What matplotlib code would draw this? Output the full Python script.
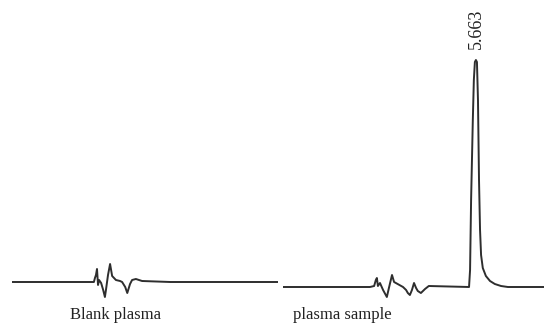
import matplotlib
matplotlib.use("Agg")
import matplotlib.pyplot as plt

# ── data: retention time (min) vs detector response (arb. units) ─────────────
blank_time = [0.00, 2.38, 2.41, 2.44, 2.47, 2.50, 2.53, 2.59, 2.65, 2.70, 2.73,
              2.79, 2.85, 2.91, 3.02, 3.14, 3.20, 3.29, 3.35, 3.43, 3.49, 3.60,
              3.78, 4.60, 5.80, 7.73]
blank_resp = [0, 0, 4, 7, 13, -3, 2, -1, -8, -15, -8,
              7, 18, 6, 2, 1, 0, -5, -11, -2, 2, 3,
              1, 0, 0, 0]

sample_time = [0.00, 2.53, 2.65, 2.70, 2.73, 2.76, 2.82, 2.91, 3.02, 3.08, 3.17,
               3.23, 3.49, 3.58, 3.63, 3.69, 3.75, 3.81, 3.87, 3.92, 4.01, 4.13,
               4.24, 5.41, 5.44, 5.47, 5.52, 5.55, 5.58, 5.61, 5.64, 5.67, 5.70,
               5.73, 5.76, 5.81, 5.90, 6.02, 6.16, 6.34, 6.54, 7.59]
sample_resp = [0, 0, 1, 7, 9, 1, 4, -3, -10, -1, 12,
               5, 0, -3, -6, -8, -3, 4, -1, -4, -6, -2,
               1, 0, 17, 87, 167, 207, 225, 227, 225, 187, 107,
               57, 32, 19, 11, 6, 3, 1, 0, 0]

peak_rt = 5.663
labels = ["Blank plasma", "plasma sample"]

# ── figure ───────────────────────────────────────────────────────────────────
W, H = 544, 324
fig = plt.figure(figsize=(W / 100, H / 100), dpi=100)
fig.patch.set_facecolor("white")

line_kw = dict(color="#2e2e2e", linewidth=1.4, solid_joinstyle="round")
ylim = (-30, 240)

# left panel: blank plasma (baseline at ~y=282 px)
ax_l = fig.add_axes([12 / W, 12 / H, 266 / W, 270 / H])
ax_l.plot(blank_time, blank_resp, **line_kw)
ax_l.set_xlim(0, 7.73)
ax_l.set_ylim(*ylim)
ax_l.axis("off")

# right panel: plasma sample (baseline at ~y=287 px)
ax_r = fig.add_axes([283 / W, 7 / H, 261 / W, 270 / H])
ax_r.plot(sample_time, sample_resp, **line_kw)
ax_r.set_xlim(0, 7.59)
ax_r.set_ylim(*ylim)
ax_r.axis("off")
ax_r.annotate(f"{peak_rt:.3f}", xy=(peak_rt - 0.03, max(sample_resp)),
              xytext=(0, 8), textcoords="offset points",
              rotation=90, ha="center", va="bottom",
              family="Liberation Serif", fontsize=13, color="#222222",
              annotation_clip=False)

serif = dict(family="Liberation Serif", fontsize=12, color="#222222", va="top")
fig.text(116 / W, 1 - 307 / H, labels[0], ha="center", **serif)
fig.text(342 / W, 1 - 307 / H, labels[1], ha="center", **serif)

fig.savefig("out.png", dpi=100, facecolor="white")
